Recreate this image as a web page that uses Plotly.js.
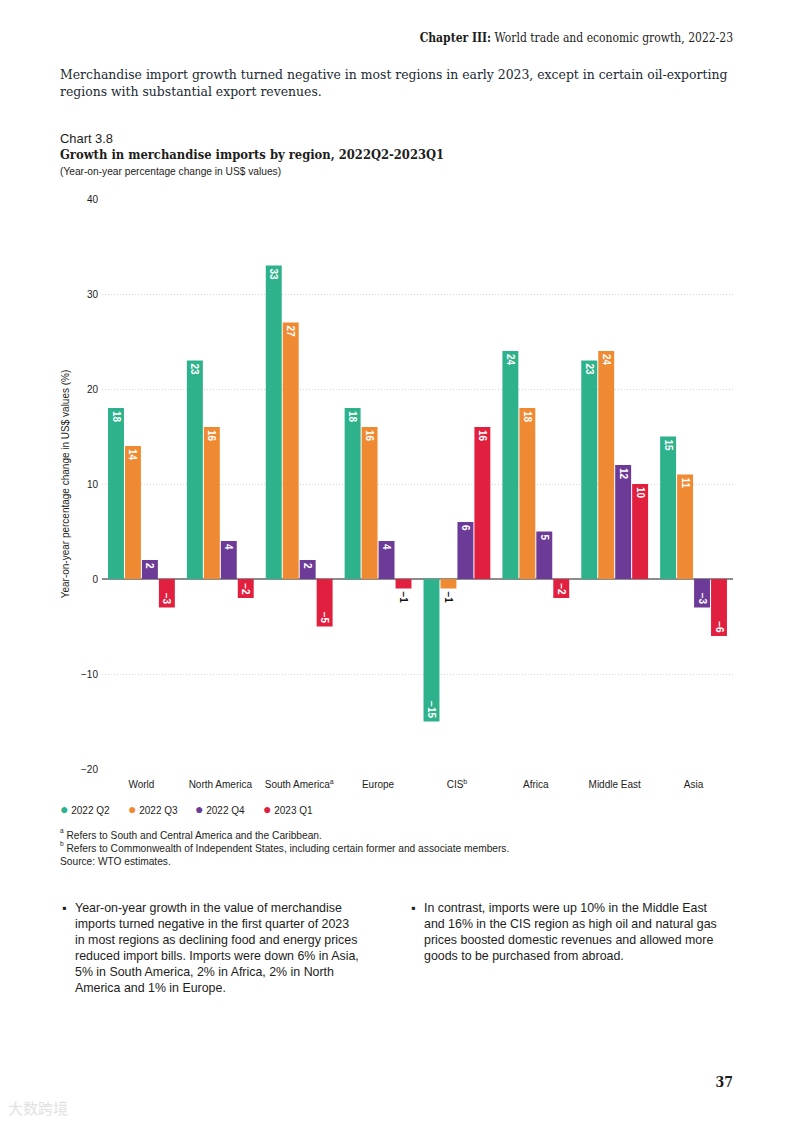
<!DOCTYPE html>
<html>
<head>
<meta charset="utf-8">
<script src="https://cdn.plot.ly/plotly-3.0.1.min.js"></script>
<style>
  html, body { margin:0; padding:0; background:#fff; }
  #page { position:relative; width:793px; height:1122px; overflow:hidden; }
  #chart { position:absolute; left:0; top:0; width:793px; height:1122px; }
  .t { position:absolute; color:#1d1d1b; white-space:nowrap; pointer-events:none; z-index:5; }
  .serif { font-family:"DejaVu Serif Condensed","DejaVu Serif",serif; }
  .sans { font-family:"Liberation Sans", Arial, sans-serif; }
  .bul { position:absolute; font-family:"Liberation Sans", Arial, sans-serif; font-size:12.4px; line-height:16px; color:#1d1d1b; z-index:5; white-space:nowrap; }
  .bul .dot { position:absolute; left:-13px; top:0; }
  sup.fn { font-size:6.5px; vertical-align:top; line-height:0; position:relative; top:2px; }
</style>
</head>
<body>
<div id="page">
  <div id="chart"></div>
  <div class="t serif" style="right:60px; top:31px; font-size:12px;"><b>Chapter III:</b> World trade and economic growth, 2022-23</div>
  <div class="t serif" style="left:60px; top:66px; font-size:13.8px; line-height:17px; color:#1b2a33;">Merchandise import growth turned negative in most regions in early 2023, except in certain oil-exporting<br>regions with substantial export revenues.</div>
  <div class="t sans" style="left:60px; top:131px; font-size:12.9px;">Chart 3.8</div>
  <div class="t serif" style="left:60px; top:147px; font-size:12.85px; font-weight:bold;">Growth in merchandise imports by region, 2022Q2-2023Q1</div>
  <div class="t sans" style="left:60px; top:166px; font-size:10.2px;">(Year-on-year percentage change in US$ values)</div>
  <div class="t sans" style="left:60px; top:829px; font-size:10.2px; line-height:13px;"><sup class="fn">a</sup> Refers to South and Central America and the Caribbean.<br><sup class="fn">b</sup> Refers to Commonwealth of Independent States, including certain former and associate members.<br>Source: WTO estimates.</div>
  <div class="bul" style="left:75px; top:900px;"><span class="dot">▪</span>Year-on-year growth in the value of merchandise<br>imports turned negative in the first quarter of 2023<br>in most regions as declining food and energy prices<br>reduced import bills. Imports were down 6% in Asia,<br>5% in South America, 2% in Africa, 2% in North<br>America and 1% in Europe.</div>
  <div class="bul" style="left:424px; top:900px;"><span class="dot">▪</span>In contrast, imports were up 10% in the Middle East<br>and 16% in the CIS region as high oil and natural gas<br>prices boosted domestic revenues and allowed more<br>goods to be purchased from abroad.</div>
  <div class="t serif" style="right:60px; top:1074px; font-size:14px; font-weight:bold;">37</div>
  <div class="t" style="left:8px; top:1097px; font-size:15px; color:#e2e2e2; font-family:'Noto Sans CJK SC',sans-serif;">大数跨境</div>
</div>
<script>
const categories = ["World", "North America", "South America<sup>a</sup>", "Europe", "CIS<sup>b</sup>", "Africa", "Middle East", "Asia"];
const seriesNames = ["2022 Q2", "2022 Q3", "2022 Q4", "2023 Q1"];
const q2_2022 = [18, 23, 33, 18, -15, 24, 23, 15];
const q3_2022 = [14, 16, 27, 16, -1, 18, 24, 11];
const q4_2022 = [2, 4, 2, 4, 6, 5, 12, -3];
const q1_2023 = [-3, -2, -5, -1, 16, -2, 10, -6];
const yTicks = [-20, -10, 0, 10, 20, 30, 40];

const colors = ["#2db28b", "#ef8a32", "#6c3b97", "#e1203f"];
const allSeries = [q2_2022, q3_2022, q4_2022, q1_2023];
const fmt = v => (v < 0 ? "\u2212" + Math.abs(v) : String(v));

const traces = allSeries.map((vals, i) => ({
  type: "bar",
  x: categories,
  y: vals,
  name: seriesNames[i],
  showlegend: false,
  marker: { color: colors[i] },
  text: vals.map(fmt),
  textposition: "auto",
  textangle: 90,
  insidetextanchor: "end",
  constraintext: "none",
  cliponaxis: false,
  insidetextfont: { color: "#ffffff", size: 10, family: "Liberation Sans", weight: "bold" },
  outsidetextfont: { color: "#111111", size: 10, family: "Liberation Sans", weight: "bold" },
  hoverinfo: "skip"
}));

// legend drawn as annotations (dot + label), laid out horizontally below the axis
const plotL = 102, plotW = 793 - 102 - 60, plotT = 199, plotH = 1122 - 199 - 353;
const legendStartPx = 58, legendStepPx = 67.5, legendYpx = 809;
const annotations = seriesNames.map((n, i) => ({
  xref: "paper", yref: "paper",
  x: (legendStartPx + i * legendStepPx - plotL) / plotW,
  y: (plotT + plotH - legendYpx) / plotH,
  xanchor: "left", yanchor: "middle",
  showarrow: false,
  text: '<span style="color:' + colors[i] + '; font-size:14px">\u25CF</span> ' + n,
  font: { size: 10, color: "#1d1d1b", family: "Liberation Sans" }
}));

const layout = {
  width: 793, height: 1122,
  margin: { l: 102, r: 60, t: 199, b: 353 },
  paper_bgcolor: "rgba(0,0,0,0)",
  plot_bgcolor: "rgba(0,0,0,0)",
  barmode: "group",
  bargap: 0.14,
  bargroupgap: 0.06,
  showlegend: false,
  font: { family: "Liberation Sans", color: "#1d1d1b", size: 10 },
  xaxis: {
    type: "category",
    range: [-0.5, 7.5],
    showgrid: false, showline: false, zeroline: false,
    ticks: "", tickfont: { size: 10 },
    ticklabelstandoff: 8
  },
  yaxis: {
    range: [-20, 40],
    tickvals: yTicks,
    showgrid: true, gridcolor: "#d4d4d4", griddash: "1px,2px", gridwidth: 1,
    zeroline: true, zerolinecolor: "#8c8c8c", zerolinewidth: 1.2,
    showline: false, ticks: "",
    tickfont: { size: 10 },
    ticklabelstandoff: 3,
    title: { text: "Year-on-year percentage change in US$ values (%)", font: { size: 10 }, standoff: 9 }
  },
  annotations: annotations
};

Plotly.newPlot("chart", traces, layout, { displayModeBar: false, staticPlot: true });
</script>
</body>
</html>
